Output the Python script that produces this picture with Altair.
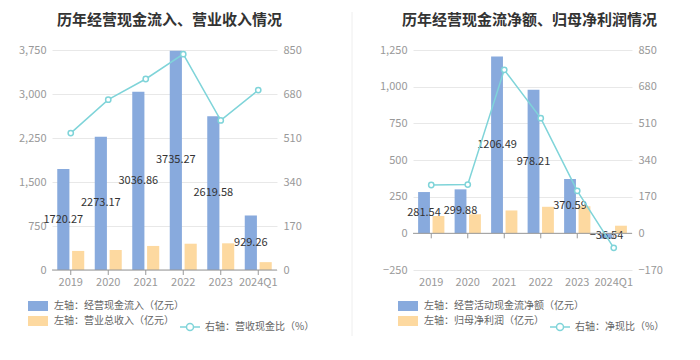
import altair as alt
import pandas as pd

years = ["2019", "2020", "2021", "2022", "2023", "2024Q1"]

# Left panel
inflow = [1720.27, 2273.17, 3036.86, 3735.27, 2619.58, 929.26]
revenue = [325, 342, 410, 448, 455, 134]
ratio_rev = [529, 658, 738, 834, 578, 695]

# Right panel
netcf = [281.54, 299.88, 1206.49, 978.21, 370.59, -36.54]
profit = [118, 130, 156, 181, 185, 52]
ratio_net = [224, 226, 758, 534, 197, -67]

FONT = "Noto Sans CJK SC"
BLUE = "#88aadd"
ORANGE = "#fdd9a0"
TEAL = "#7fd4d9"
AXC = "#999999"

RECT = "M-1,-0.5H1V0.5H-1Z"
LINESYM = "M-1,0H-0.35M0.35,0H1M0.35,0A0.35,0.35,0,1,1,-0.35,0A0.35,0.35,0,1,1,0.35,0"


def panel(title, title_dx, n1, v1, n2, v2, nl, vl, ldom, lvals, lfmt,
          rdom, rvals, width, bar_lx, line_lx):
    rows = []
    for i, y in enumerate(years):
        rows.append({"year": y, "series": n1, "value": v1[i]})
        rows.append({"year": y, "series": n2, "value": v2[i]})
    bars_df = pd.DataFrame(rows)
    line_df = pd.DataFrame({"year": years, "series": [nl] * len(years), "ratio": vl})
    zero_df = pd.DataFrame({"zero": [0]})

    xscale = alt.Scale(domain=years, paddingInner=0.28, paddingOuter=0.14)
    xaxis = alt.Axis(title=None, domain=False, ticks=False, labelColor=AXC,
                     labelFontSize=11, labelPadding=6, labelFont=FONT, labelAngle=0)
    yscale = alt.Scale(domain=ldom, nice=False, zero=False)
    yaxis = alt.Axis(title=None, values=lvals, format=lfmt, domain=False, ticks=False,
                     grid=True, gridColor="#e8e8e8", labelColor=AXC, labelFontSize=11,
                     labelPadding=6, labelFont=FONT)
    offscale = alt.Scale(domain=[n1, n2], paddingInner=0.18)

    def X():
        return alt.X("year:N", scale=xscale, axis=xaxis)

    def Y(f):
        return alt.Y(f, scale=yscale, axis=yaxis)

    base = alt.Chart(bars_df)
    bars = base.mark_bar().encode(
        x=X(),
        xOffset=alt.XOffset("series:N", scale=offscale),
        y=Y("value:Q"),
        color=alt.Color("series:N",
                        scale=alt.Scale(domain=[n1, n2], range=[BLUE, ORANGE]),
                        legend=alt.Legend(title=None, orient="none", legendX=bar_lx, legendY=246,
                                          direction="vertical", symbolType=RECT, symbolSize=400,
                                          symbolStrokeWidth=0, labelFont=FONT, labelFontSize=10,
                                          labelColor="#666666", labelOffset=6, rowPadding=0,
                                          padding=0, labelLimit=300)),
    )
    labels = base.transform_filter(alt.datum.series == n1).transform_calculate(
        mid="datum.value / 2"
    ).mark_text(fontSize=11, color="#333333", font=FONT).encode(
        x=X(),
        xOffset=alt.XOffset("series:N", scale=offscale),
        y=Y("mid:Q"),
        text=alt.Text("value:Q", format=".2f"),
    )
    zero = alt.Chart(zero_df).mark_rule(color=AXC, strokeWidth=1).encode(y=Y("zero:Q"))
    ticks = alt.Chart(line_df).transform_calculate(zero="0").mark_rule(
        color=AXC, strokeWidth=1, y2Offset=5
    ).encode(x=X(), y=Y("zero:Q"), y2="zero:Q")

    line = alt.Chart(line_df).mark_line(
        strokeWidth=1.5,
        point=alt.OverlayMarkDef(filled=True, fill="white", size=28, strokeWidth=1.5),
    ).encode(
        x=X(),
        y=alt.Y("ratio:Q", scale=alt.Scale(domain=rdom, nice=False, zero=False),
                axis=alt.Axis(title=None, orient="right", values=rvals, domain=False,
                              ticks=False, grid=False, labelColor=AXC, labelFontSize=11,
                              labelPadding=6, labelFont=FONT)),
        stroke=alt.Stroke("series:N", scale=alt.Scale(domain=[nl], range=[TEAL]),
                          legend=alt.Legend(title=None, orient="none", legendX=line_lx,
                                            legendY=266, symbolType=LINESYM, symbolSize=400,
                                            symbolStrokeWidth=1.5, symbolFillColor="white",
                                            labelFont=FONT, labelFontSize=10,
                                            labelColor="#666666", labelOffset=4, padding=0,
                                            labelLimit=300)),
    )

    inner = alt.layer(bars, labels, zero, ticks)
    return alt.layer(inner, line).resolve_scale(y="independent").properties(
        width=width, height=220,
        title=alt.TitleParams(title, font=FONT, fontSize=15, fontWeight="bold",
                              color="#333333", anchor="middle", offset=16, dx=title_dx),
    )


left = panel("历年经营现金流入、营业收入情况", 5,
             "左轴：经营现金流入（亿元）", inflow,
             "左轴：营业总收入（亿元）", revenue,
             "右轴：营收现金比（%）", ratio_rev,
             [0, 3750], [0, 750, 1500, 2250, 3000, 3750], ",.0f",
             [0, 850], [0, 170, 340, 510, 680, 850], 225, -24, 127)

right = panel("历年经营现金流净额、归母净利润情况", 7,
              "左轴：经营活动现金流净额（亿元）", netcf,
              "左轴：归母净利润（亿元）", profit,
              "右轴：净现比（%）", ratio_net,
              [-250, 1250], [-250, 0, 250, 500, 750, 1000, 1250], ",.0f",
              [-170, 850], [-170, 0, 170, 340, 510, 680, 850], 219, -15, 136)

sep = alt.Chart(pd.DataFrame({"a": [0]})).mark_rule(color="#eeeeee", strokeWidth=1).encode(
    x=alt.value(45), y=alt.value(-38), y2=alt.value(286)
).properties(width=76, height=220)

chart = alt.hconcat(left, sep, right, spacing=30, bounds="flush").resolve_scale(
    x="independent", y="independent", color="independent", stroke="independent",
    xOffset="independent"
).properties(
    padding={"left": 10, "top": 3, "right": 0, "bottom": 0},
    background="white",
).configure_view(stroke=None)

chart.save("out.html", embed_options={"renderer": "svg", "actions": False})
